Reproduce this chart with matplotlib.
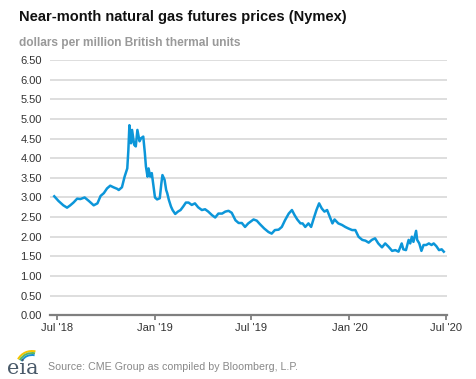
import numpy as np
import pandas as pd
import matplotlib
matplotlib.use('Agg')
import matplotlib.pyplot as plt
from matplotlib.patches import Arc

plt.rcParams['font.family'] = ['Liberation Sans', 'DejaVu Sans']

# Near-month futures price, $/MMBtu
dates = [
    '2018-06-26', '2018-07-04', '2018-07-13', '2018-07-20', '2018-07-26', '2018-08-01',
    '2018-08-08', '2018-08-14', '2018-08-22', '2018-08-30', '2018-09-08', '2018-09-15',
    '2018-09-21', '2018-09-27', '2018-10-03', '2018-10-09', '2018-10-15', '2018-10-22',
    '2018-10-25', '2018-10-31', '2018-11-05', '2018-11-10', '2018-11-12', '2018-11-14',
    '2018-11-17', '2018-11-19', '2018-11-23', '2018-11-26', '2018-11-29', '2018-12-03',
    '2018-12-06', '2018-12-10', '2018-12-13', '2018-12-15', '2018-12-18', '2018-12-20',
    '2018-12-23', '2018-12-26', '2018-12-28', '2019-01-01', '2019-01-05', '2019-01-10',
    '2019-01-13', '2019-01-15', '2019-01-19', '2019-01-22', '2019-01-24', '2019-01-27',
    '2019-01-31', '2019-02-03', '2019-02-08', '2019-02-13', '2019-02-18', '2019-02-23',
    '2019-02-28', '2019-03-05', '2019-03-11', '2019-03-17', '2019-03-23', '2019-03-30',
    '2019-04-05', '2019-04-11', '2019-04-18', '2019-04-24', '2019-04-30', '2019-05-07',
    '2019-05-13', '2019-05-19', '2019-05-25', '2019-06-01', '2019-06-07', '2019-06-13',
    '2019-06-19', '2019-06-25', '2019-07-05', '2019-07-11', '2019-07-17', '2019-07-25',
    '2019-08-02', '2019-08-08', '2019-08-14', '2019-08-21', '2019-08-27', '2019-09-02',
    '2019-09-09', '2019-09-15', '2019-09-20', '2019-09-25', '2019-10-01', '2019-10-05',
    '2019-10-10', '2019-10-16', '2019-10-21', '2019-10-26', '2019-10-31', '2019-11-05',
    '2019-11-10', '2019-11-15', '2019-11-20', '2019-11-25', '2019-11-30', '2019-12-04',
    '2019-12-11', '2019-12-18', '2019-12-24', '2019-12-30', '2020-01-06', '2020-01-12',
    '2020-01-18', '2020-01-25', '2020-01-31', '2020-02-06', '2020-02-12', '2020-02-18',
    '2020-02-24', '2020-03-02', '2020-03-08', '2020-03-14', '2020-03-21', '2020-03-27',
    '2020-04-02', '2020-04-08', '2020-04-11', '2020-04-16', '2020-04-21', '2020-04-24',
    '2020-04-27', '2020-04-30', '2020-05-05', '2020-05-07', '2020-05-11', '2020-05-15',
    '2020-05-19', '2020-05-24', '2020-05-29', '2020-06-03', '2020-06-07', '2020-06-12',
    '2020-06-17', '2020-06-22', '2020-06-26',
]
prices = [
    3.03, 2.91, 2.80, 2.74, 2.80, 2.87,
    2.97, 2.96, 3.00, 2.91, 2.80, 2.85,
    3.04, 3.11, 3.23, 3.30, 3.26, 3.22,
    3.19, 3.26, 3.53, 3.74, 4.19, 4.84,
    4.38, 4.72, 4.34, 4.30, 4.72, 4.43,
    4.51, 4.55, 4.13, 3.79, 3.53, 3.74,
    3.53, 3.62, 3.41, 3.00, 2.95, 2.98,
    3.36, 3.57, 3.45, 3.19, 3.11, 2.94,
    2.77, 2.68, 2.58, 2.64, 2.68, 2.77,
    2.87, 2.87, 2.81, 2.85, 2.75, 2.68,
    2.70, 2.64, 2.55, 2.49, 2.59, 2.59,
    2.64, 2.66, 2.61, 2.42, 2.35, 2.35,
    2.25, 2.34, 2.44, 2.41, 2.32, 2.21,
    2.12, 2.08, 2.17, 2.18, 2.25, 2.42,
    2.59, 2.68, 2.55, 2.44, 2.34, 2.34,
    2.25, 2.34, 2.25, 2.47, 2.68, 2.85,
    2.72, 2.64, 2.68, 2.51, 2.34, 2.44,
    2.34, 2.30, 2.25, 2.21, 2.17, 2.17,
    2.00, 1.92, 1.90, 1.85, 1.92, 1.96,
    1.83, 1.73, 1.83, 1.75, 1.64, 1.66,
    1.62, 1.83, 1.68, 1.66, 1.92, 1.83,
    2.00, 1.87, 2.15, 1.92, 1.83, 1.64,
    1.79, 1.79, 1.83, 1.79, 1.83, 1.76,
    1.66, 1.68, 1.62,
]
x_ticks = ['2018-07-01', '2019-01-01', '2019-07-01', '2020-01-01', '2020-07-01']
x_labels = ["Jul '18", "Jan '19", "Jul '19", "Jan '20", "Jul '20"]
y_ticks = np.arange(0, 6.51, 0.5)

df = pd.DataFrame({'date': pd.to_datetime(dates), 'price': prices})

fig = plt.figure(figsize=(4.77, 3.79), dpi=100)
ax = fig.add_axes([50 / 477, 1 - 315.3 / 379, 397 / 477, 255.3 / 379])

ax.plot(df['date'], df['price'], color='#0c96d9', lw=1.8, solid_joinstyle='round', zorder=3)

ax.set_ylim(0, 6.5)
ax.set_xlim(pd.Timestamp('2018-06-18'), pd.Timestamp('2020-07-02'))
ax.set_yticks(y_ticks)
ax.set_yticklabels([f'{v:.2f}' for v in y_ticks])
ax.set_xticks(pd.to_datetime(x_ticks))
ax.set_xticklabels(x_labels)

ax.grid(axis='y', color='#d4d4d4', lw=1.1)
ax.set_axisbelow(True)
for s in ['top', 'right', 'left']:
    ax.spines[s].set_visible(False)
ax.spines['bottom'].set_color('#7f7f7f')
ax.spines['bottom'].set_linewidth(1.6)
ax.spines['bottom'].set_zorder(4)
ax.tick_params(axis='y', length=0, pad=6, labelsize=8, labelcolor='#333333')
ax.tick_params(axis='x', length=3.5, width=1.3, color='#7f7f7f', pad=2,
               labelsize=8, labelcolor='#333333')

fig.text(19 / 477, 1 - 17 / 379, 'Near-month natural gas futures prices (Nymex)',
         fontsize=10.5, fontweight='bold', color='#111111', va='center')
fig.text(19 / 477, 1 - 43 / 379, 'dollars per million British thermal units',
         fontsize=8.6, fontweight='bold', color='#999999', va='center')
fig.text(48 / 477, 1 - 367 / 379, 'Source: CME Group as compiled by Bloomberg, L.P.',
         fontsize=7.7, color='#888888', va='center')

# eia logo
fig.text(7 / 477, 1 - 368 / 379, 'eia', fontsize=15, family='DejaVu Serif',
         color='#4a5a6a', va='center')
for r, c in [(16, '#f5c400'), (14, '#5cb85c'), (12, '#1a8fd0')]:
    fig.add_artist(Arc((32 / 477, 1 - 367 / 379), 2 * r / 477, 2 * r / 379,
                       theta1=80, theta2=145, color=c, lw=1.4,
                       transform=fig.transFigure))

fig.savefig('out.png', dpi=100)
